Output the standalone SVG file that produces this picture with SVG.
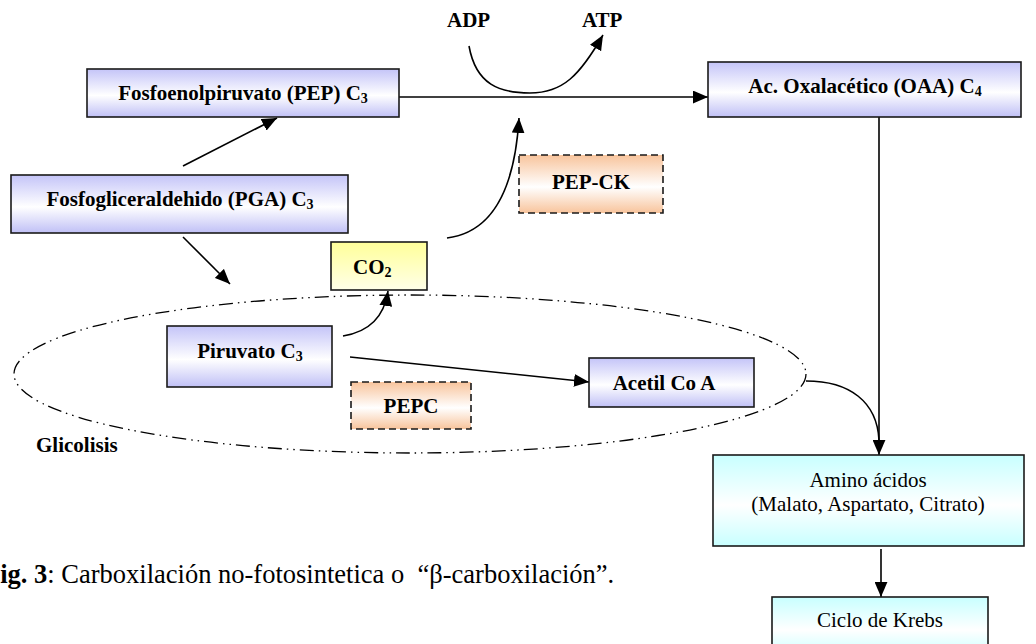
<svg xmlns="http://www.w3.org/2000/svg" width="1036" height="644" viewBox="0 0 1036 644">
<style>
.box{stroke:#1a1a1a;stroke-width:1.6}
.dash{stroke-dasharray:7 4}
.b{font-family:"Liberation Serif","Times New Roman",serif;font-weight:bold;font-size:21px;fill:#000}
.r{font-family:"Liberation Serif","Times New Roman",serif;font-size:21px;fill:#000}
.cap{font-family:"Liberation Serif","Times New Roman",serif;font-size:26.5px;fill:#000}
.c{text-anchor:middle}
.ln{fill:none;stroke:#000;stroke-width:1.6}
.ell{fill:none;stroke:#000;stroke-width:1.3;stroke-dasharray:14 5 1.5 5 1.5 5}
</style>
<defs>
<linearGradient id="gBlue" x1="0" y1="0" x2="0" y2="1">
<stop offset="0" stop-color="#c4c4f8"/><stop offset="0.55" stop-color="#ffffff"/><stop offset="1" stop-color="#c0c0f6"/>
</linearGradient>
<linearGradient id="gOr" x1="0" y1="0" x2="0" y2="1">
<stop offset="0" stop-color="#f8c49c"/><stop offset="0.55" stop-color="#ffffff"/><stop offset="1" stop-color="#f8c49c"/>
</linearGradient>
<linearGradient id="gYel" x1="0" y1="0" x2="0" y2="1">
<stop offset="0" stop-color="#ffff99"/><stop offset="1" stop-color="#ffffe8"/>
</linearGradient>
<linearGradient id="gCy" x1="0" y1="0" x2="0" y2="1">
<stop offset="0" stop-color="#c8ffff"/><stop offset="0.55" stop-color="#ffffff"/><stop offset="1" stop-color="#c8ffff"/>
</linearGradient>
<marker id="ah" viewBox="0 0 14 12" refX="14" refY="6" markerWidth="15" markerHeight="13" markerUnits="userSpaceOnUse" orient="auto">
<path d="M0,0 L14,6 L0,12 Z" fill="#000"/>
</marker>
</defs>

<g id="glicolisis">
<ellipse class="ell" cx="410" cy="374" rx="396" ry="79"/>
<text class="b" x="36" y="452">Glicolisis</text>
</g>

<g id="connectors">
<path class="ln" d="M396,97 L708,97" marker-end="url(#ah)"/>
<path class="ln" d="M469,46 C476,85 500,93 530,93 C563,93 580,75 603,35" marker-end="url(#ah)"/>
<path class="ln" d="M447,238 C495,232 515,185 519,118" marker-end="url(#ah)"/>
<path class="ln" d="M183,166 L277,118" marker-end="url(#ah)"/>
<path class="ln" d="M183,237 L230,284" marker-end="url(#ah)"/>
<path class="ln" d="M343,336 C368,332 384,318 388,291" marker-end="url(#ah)"/>
<path class="ln" d="M350,357 L589,382" marker-end="url(#ah)"/>
<path class="ln" d="M879,117 L879,455" marker-end="url(#ah)"/>
<path class="ln" d="M806,381 C850,381 877,402 879,440"/>
<path class="ln" d="M881,549 L881,597" marker-end="url(#ah)"/>
</g>

<g id="pep">
<rect class="box" x="87" y="69" width="312" height="48" fill="url(#gBlue)"/>
<text class="b c" x="243" y="100">Fosfoenolpiruvato (PEP) C<tspan font-size="14" dy="3">3</tspan></text>
</g>
<g id="pga">
<rect class="box" x="11" y="175" width="337" height="58" fill="url(#gBlue)"/>
<text class="b c" x="180" y="206">Fosfogliceraldehido (PGA) C<tspan font-size="14" dy="3">3</tspan></text>
</g>
<g id="oaa">
<rect class="box" x="708" y="62" width="313" height="55" fill="url(#gBlue)"/>
<text class="b c" x="865" y="93">Ac. Oxalacético (OAA) C<tspan font-size="14" dy="3">4</tspan></text>
</g>
<g id="adp"><text class="b" x="447" y="27">ADP</text></g>
<g id="atp"><text class="b" x="582" y="27">ATP</text></g>
<g id="pepck">
<rect class="box dash" x="519" y="155" width="144" height="58" fill="url(#gOr)"/>
<text class="b c" x="591" y="189">PEP-CK</text>
</g>
<g id="co2">
<rect class="box" x="331" y="242" width="96" height="48" fill="url(#gYel)"/>
<text class="b" x="353" y="274">CO<tspan font-size="14" dy="3">2</tspan></text>
</g>
<g id="piruvato">
<rect class="box" x="167" y="326" width="165" height="61" fill="url(#gBlue)"/>
<text class="b c" x="250" y="358">Piruvato C<tspan font-size="14" dy="3">3</tspan></text>
</g>
<g id="pepc">
<rect class="box dash" x="351" y="382" width="120" height="47" fill="url(#gOr)"/>
<text class="b c" x="411" y="413">PEPC</text>
</g>
<g id="acetil">
<rect class="box" x="589" y="358" width="165" height="49" fill="url(#gBlue)"/>
<text class="b c" x="664" y="390">Acetil Co A</text>
</g>
<g id="amino">
<rect class="box" x="713" y="455" width="311" height="91" fill="url(#gCy)"/>
<text class="r c" x="868" y="487">Amino ácidos</text>
<text class="r c" x="868" y="511">(Malato, Aspartato, Citrato)</text>
</g>
<g id="krebs">
<rect class="box" x="772" y="597" width="216" height="60" fill="url(#gCy)"/>
<text class="r c" x="880" y="627">Ciclo de Krebs</text>
</g>
<g id="caption">
<text class="cap" x="-16" y="583" xml:space="preserve"><tspan font-weight="bold">Fig. 3</tspan>: Carboxilación no-fotosintetica o  “β-carboxilación”.</text>
</g>
</svg>
